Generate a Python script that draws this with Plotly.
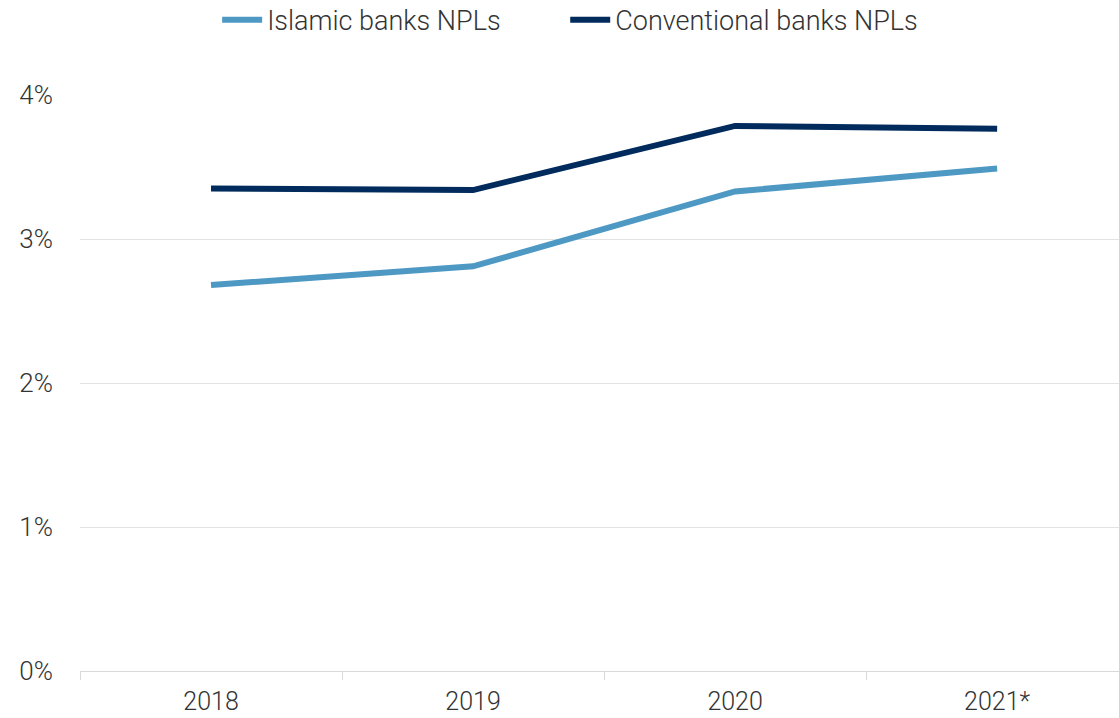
import plotly.graph_objects as go

years = ["2018", "2019", "2020", "2021*"]
islamic_npl = [2.68, 2.81, 3.33, 3.49]
conventional_npl = [3.35, 3.34, 3.785, 3.765]

FONT = "Roboto, sans-serif"
AXIS_TEXT = dict(family=FONT, size=26, color="#333333", weight=300)
XTICK_TEXT = dict(family=FONT, size=25, color="#333333", weight=300)
LEGEND_TEXT = dict(family=FONT, size=27, color="#333333", weight=300)

fig = go.Figure()
fig.add_trace(go.Scatter(
    x=years, y=islamic_npl, name="Islamic banks NPLs", mode="lines",
    line=dict(color="#4E98C4", width=6), legend="legend",
))
fig.add_trace(go.Scatter(
    x=years, y=conventional_npl, name="Conventional banks NPLs", mode="lines",
    line=dict(color="#002B5C", width=6), legend="legend2",
))

legend_common = dict(orientation="h", y=1.13, yanchor="middle", xanchor="left",
                     font=LEGEND_TEXT, itemwidth=40, itemclick=False,
                     bgcolor="rgba(0,0,0,0)")

fig.update_layout(
    width=1119, height=718,
    margin=dict(l=80, r=0, t=95, b=47, autoexpand=False),
    paper_bgcolor="white", plot_bgcolor="white",
    font=AXIS_TEXT,
    showlegend=True,
    legend=dict(x=0.132, **legend_common),
    legend2=dict(x=0.467, **legend_common),
    xaxis=dict(
        type="category", range=[-0.5, 3.465],
        showgrid=False, showline=True, linecolor="#D9D9D9", linewidth=1,
        ticks="outside", tickson="boundaries", ticklen=8, tickcolor="#D9D9D9",
        ticklabelstandoff=8,
        tickfont=XTICK_TEXT,
    ),
    yaxis=dict(
        range=[0, 4], tickvals=[0, 1, 2, 3, 4], ticktext=["0%", "1%", "2%", "3%", "4%"],
        showgrid=True, gridcolor="#E3E3E3", gridwidth=1,
        zeroline=False, showline=False, ticks="",
        ticklabelstandoff=26,
        tickfont=AXIS_TEXT,
    ),
)

fig.write_html("out.html")
